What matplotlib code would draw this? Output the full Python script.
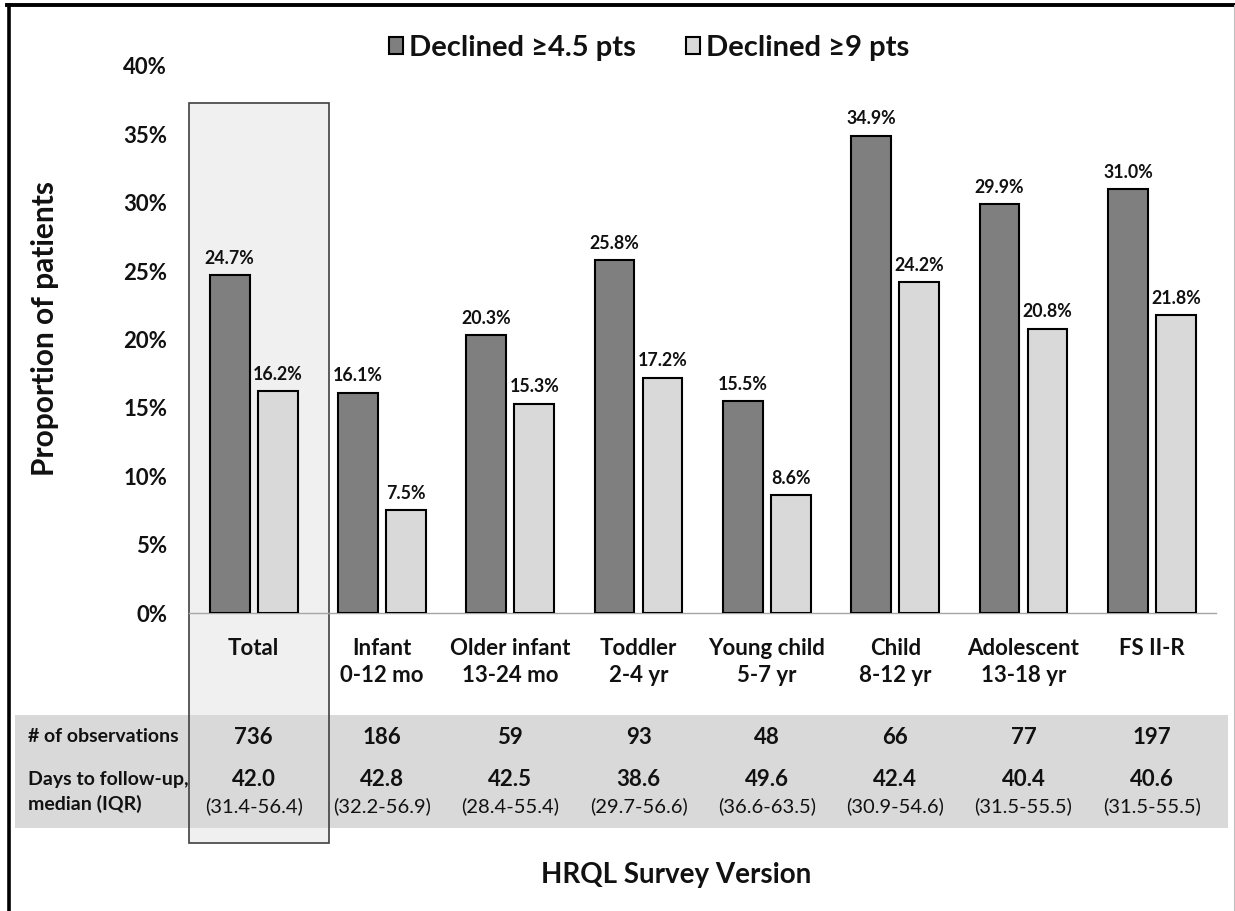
import numpy as np
import matplotlib
matplotlib.use('Agg')
import matplotlib.pyplot as plt
from matplotlib.patches import Rectangle
from matplotlib.lines import Line2D
from matplotlib.transforms import blended_transform_factory
from matplotlib.ticker import FuncFormatter

plt.rcParams['font.family'] = ['Lato', 'DejaVu Sans']

# data
groups = ['Total', 'Infant\n0-12 mo', 'Older infant\n13-24 mo', 'Toddler\n2-4 yr',
          'Young child\n5-7 yr', 'Child\n8-12 yr', 'Adolescent\n13-18 yr', 'FS II-R']
declined_45 = [24.7, 16.1, 20.3, 25.8, 15.5, 34.9, 29.9, 31.0]
declined_9 = [16.2, 7.5, 15.3, 17.2, 8.6, 24.2, 20.8, 21.8]
n_obs = [736, 186, 59, 93, 48, 66, 77, 197]
days_median = [42.0, 42.8, 42.5, 38.6, 49.6, 42.4, 40.4, 40.6]
days_iqr = ['31.4-56.4', '32.2-56.9', '28.4-55.4', '29.7-56.6',
            '36.6-63.5', '30.9-54.6', '31.5-55.5', '31.5-55.5']
yticks = [0, 5, 10, 15, 20, 25, 30, 35, 40]

W, H = 1235, 911
dark = '#7f7f7f'
light = '#d9d9d9'
ink = '#111111'


def fx(px):
    return px / W


def fy(py):
    return 1 - py / H


fig = plt.figure(figsize=(12.35, 9.11), dpi=100)
ax = fig.add_axes([fx(189.5), fy(613), fx(1216) - fx(189.5), fy(66) - fy(613)])
ax.patch.set_visible(False)

x = np.arange(len(groups))
bw = 0.31
off = 0.187
b1 = ax.bar(x - off, declined_45, bw, color=dark, edgecolor='black', linewidth=1.5,
            zorder=3, label='Declined ≥4.5 pts')
b2 = ax.bar(x + off, declined_9, bw, color=light, edgecolor='black', linewidth=1.5,
            zorder=3, label='Declined ≥9 pts')
for bars in (b1, b2):
    ax.bar_label(bars, labels=[f'{v:.1f}%' for v in bars.datavalues], padding=6,
                 fontsize=12.8, fontweight='bold', color=ink, zorder=4)

ax.set_xlim(-0.5, len(groups) - 0.5)
ax.set_ylim(0, 40)
ax.set_yticks(yticks)
ax.yaxis.set_major_formatter(FuncFormatter(lambda v, p: f'{v:.0f}%'))
ax.set_xticks(x)
ax.set_xticklabels(groups)
ax.tick_params(axis='both', length=0, labelsize=16)
ax.tick_params(axis='y', pad=16)
ax.tick_params(axis='x', pad=18)
for t in ax.get_xticklabels() + ax.get_yticklabels():
    t.set_fontweight('bold')
    t.set_color(ink)
for t in ax.get_xticklabels():
    t.set_linespacing(1.35)
for s in ('top', 'right', 'left'):
    ax.spines[s].set_visible(False)
ax.spines['bottom'].set_color('#a6a6a6')
ax.spines['bottom'].set_linewidth(1.0)

ax.set_ylabel('Proportion of patients', fontsize=21.5, fontweight='bold', va='center',
              color=ink)
ax.yaxis.set_label_coords((45 - 189.5) / (1216 - 189.5), (613 - 328) / 547)

# highlight box behind "Total" and the summary table
bt = blended_transform_factory(ax.transData, fig.transFigure)
box_x0, box_x1 = -0.5, 0.587
ax.add_patch(Rectangle((box_x0, fy(843)), box_x1 - box_x0, fy(103) - fy(843), transform=bt,
                       facecolor='#f0f0f0', edgecolor='none', clip_on=False, zorder=0.5))
ax.add_patch(Rectangle((fx(15), fy(828)), fx(1228) - fx(15), fy(715) - fy(828),
                       transform=fig.transFigure, facecolor=light, edgecolor='none',
                       clip_on=False, zorder=0.6))
ax.add_patch(Rectangle((box_x0, fy(843)), box_x1 - box_x0, fy(103) - fy(843), transform=bt,
                       facecolor='none', edgecolor='#404040', linewidth=1.2,
                       clip_on=False, zorder=0.7))

# table rows
ax.text(fx(28), fy(737), '# of observations', transform=fig.transFigure, fontsize=14,
        fontweight='bold', va='center', ha='left', color=ink)
ax.text(fx(28), fy(779), 'Days to follow-up,', transform=fig.transFigure, fontsize=14,
        fontweight='bold', va='center', ha='left', color=ink)
ax.text(fx(28), fy(804), 'median (IQR)', transform=fig.transFigure, fontsize=14,
        fontweight='bold', va='center', ha='left', color=ink)
for i in range(len(groups)):
    ax.text(x[i], fy(737), f'{n_obs[i]}', transform=bt, fontsize=16, fontweight='bold',
            ha='center', va='center', color=ink)
    ax.text(x[i], fy(779), f'{days_median[i]:.1f}', transform=bt, fontsize=16,
            fontweight='bold', ha='center', va='center', color=ink)
    ax.text(x[i], fy(806), f'({days_iqr[i]})', transform=bt, fontsize=14.5,
            ha='center', va='center', color=ink)

fig.text(fx(676), fy(875), 'HRQL Survey Version', fontsize=20, fontweight='bold',
         ha='center', va='center', color=ink)

leg = ax.legend(handles=[b1, b2], ncol=2, loc='center', bbox_to_anchor=(fx(649), fy(48)),
                bbox_transform=fig.transFigure, frameon=False, handlelength=0.5,
                handleheight=0.5, handletextpad=0.2, columnspacing=1.7,
                prop={'size': 21, 'weight': 'bold'})
for t in leg.get_texts():
    t.set_color(ink)

# outer frame
fig.add_artist(Line2D([fx(8.5), fx(8.5)], [0, fy(5)], transform=fig.transFigure,
                      color='black', lw=2.6))
fig.add_artist(Line2D([fx(7), 1], [fy(5), fy(5)], transform=fig.transFigure,
                      color='black', lw=2.8))
fig.add_artist(Line2D([fx(1233.5), fx(1233.5)], [0, fy(5)], transform=fig.transFigure,
                      color='#bfbfbf', lw=0.8))

fig.savefig('out.png', dpi=100, facecolor='white')
